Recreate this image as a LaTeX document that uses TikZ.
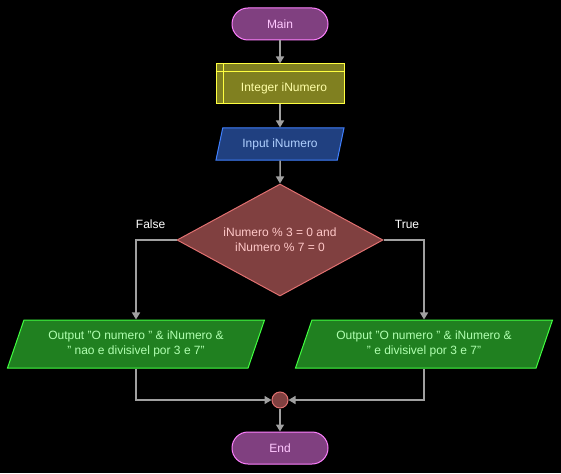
\documentclass[tikz,border=0pt]{standalone}
\usepackage{fontspec}
\setmainfont{Liberation Sans}
\usetikzlibrary{shapes.geometric, arrows.meta}
\definecolor{flowgray}{HTML}{A0A0A0}
\definecolor{termfill}{HTML}{804080}
\definecolor{termline}{HTML}{FF80FF}
\definecolor{termtext}{HTML}{FFC8FF}
\definecolor{declfill}{HTML}{808020}
\definecolor{declline}{HTML}{FFFF40}
\definecolor{decltext}{HTML}{FFFFA8}
\definecolor{inpfill}{HTML}{204080}
\definecolor{inpline}{HTML}{4080FF}
\definecolor{inptext}{HTML}{B0D0FF}
\definecolor{condfill}{HTML}{804040}
\definecolor{condline}{HTML}{E07070}
\definecolor{condtext}{HTML}{FFC8C8}
\definecolor{outfill}{HTML}{208020}
\definecolor{outline}{HTML}{40FF40}
\definecolor{outtext}{HTML}{B0FFB0}

\begin{document}
\begin{tikzpicture}[x = 1pt, y = -1pt, font = \fontsize{12}{15}\selectfont,
    conn/.style = {draw = flowgray, line width = 1.5pt, -{Triangle[width = 8pt, length = 7pt]}},
    term/.style = {draw = termline, fill = termfill, text = termtext, line width = 1pt, rounded corners = 16pt, minimum width = 96pt, minimum height = 32pt},
    decl/.style = {draw = declline, fill = declfill, line width = 1pt, minimum width = 128pt, minimum height = 40pt},
    inp/.style = {trapezium, trapezium stretches body, trapezium left angle = 69.4, trapezium right angle = 110.6, draw = inpline, fill = inpfill, text = inptext, line width = 1pt, minimum width = 128pt, minimum height = 32pt},
    outp/.style = {trapezium, trapezium stretches body, trapezium left angle = 63.4, trapezium right angle = 116.6, draw = outline, fill = outfill, text = outtext, line width = 1pt, minimum width = 257pt, minimum height = 48pt, align = center},
    cond/.style = {diamond, aspect = 1.84, draw = condline, fill = condfill, text = condtext, line width = 1pt, minimum width = 206pt, minimum height = 112pt, align = center, inner sep = 0pt},
    lbl/.style = {text = white}]
    \fill [black] (0,0) rectangle (561,473);
    \useasboundingbox (0,0) rectangle (561,473);

    \node [term] (main) at (280,24) {Main};
    \node [decl, label = {[text = decltext, xshift = 4pt, yshift = -4pt]center:Integer iNumero}] (int) at (280,84) {};
    \draw [declline, line width = 1pt] ([yshift = -8pt]int.north west) -- ([yshift = -8pt]int.north east);
    \draw [declline, line width = 1pt] ([xshift = 8pt]int.north west) -- ([xshift = 8pt]int.south west);
    \node [inp] (inp) at (280,144) {Input iNumero};
    \node [cond] (test) at (280,240) {iNumero \% 3 = 0 and\\iNumero \% 7 = 0};
    \node [outp] (outF) at (136,344) {Output "O numero " \& iNumero \&\\" nao e divisivel por 3 e 7"};
    \node [outp] (outT) at (424,344) {Output "O numero " \& iNumero \&\\" e divisivel por 3 e 7"};
    \node [circle, draw = condline, fill = condfill, line width = 1pt, minimum size = 16pt, inner sep = 0pt] (join) at (280,400) {};
    \node [term] (end) at (280,448) {End};

    \draw [conn] (main) -- (int);
    \draw [conn] (int) -- (inp);
    \draw [conn] (inp) -- (test);
    \draw [conn] (test.west) -| node [lbl, above = 7pt, pos = 0.32] {False} (outF.north);
    \draw [conn] (test.east) -| node [lbl, above = 7pt, pos = 0.29] {True} (outT.north);
    \draw [conn] (outF.south) |- (join.west);
    \draw [conn] (outT.south) |- (join.east);
    \draw [conn] (join) -- (end);
\end{tikzpicture}
\end{document}
